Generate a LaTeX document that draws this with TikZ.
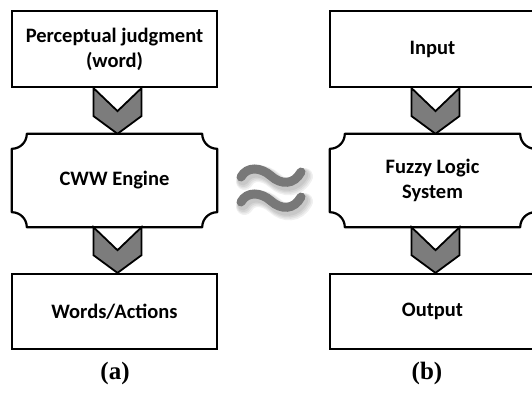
\documentclass[tikz,border=0pt]{standalone}
\usepackage{fontspec}
\setmainfont{Liberation Serif}
\newfontfamily\boxfont{Carlito}
\usetikzlibrary{calc}

\definecolor{chevgray}{HTML}{7C7C7C}
\definecolor{wavegray}{HTML}{787878}

\tikzset{
  boxtext/.style={font=\boxfont\bfseries\fontsize{20.5}{25}\selectfont, align=center},
  blk/.style={boxtext, draw=black, line width=2.2pt, fill=white,
              minimum width=205pt, minimum height=76pt, inner sep=0pt},
  eng/.style={boxtext, minimum width=205pt, minimum height=93pt, inner sep=0pt},
  plaqueline/.style={draw=black, line width=2.2pt, line join=round},
  chev/.style={draw=black, line width=1.8pt, fill=chevgray, line join=miter},
  wave/.style={draw=wavegray, line width=9pt, line cap=round},
  waveshade/.style={draw=black, line cap=round, opacity=0.06},
  caption/.style={font=\bfseries\fontsize{25}{27}\selectfont}
}

% outline of a plaque (concave rounded corners) around a node
\newcommand\plaque[1]{%
  \path[plaqueline]
    ($(#1.north west)+(15,0)$) -- ($(#1.north east)+(-15,0)$)
    .. controls ($(#1.north east)+(-15,8.3)$) and ($(#1.north east)+(-8.3,15)$) .. ($(#1.north east)+(0,15)$)
    -- ($(#1.south east)+(0,-15)$)
    .. controls ($(#1.south east)+(-8.3,-15)$) and ($(#1.south east)+(-15,-8.3)$) .. ($(#1.south east)+(-15,0)$)
    -- ($(#1.south west)+(15,0)$)
    .. controls ($(#1.south west)+(15,-8.3)$) and ($(#1.south west)+(8.3,-15)$) .. ($(#1.south west)+(0,-15)$)
    -- ($(#1.north west)+(0,15)$)
    .. controls ($(#1.north west)+(8.3,15)$) and ($(#1.north west)+(15,8.3)$) .. ($(#1.north west)+(15,0)$)
    -- cycle;}

% chevron connector from the bottom of one node to the top of the next
\newcommand\chevron[2]{%
  \path[chev]
    ($(#1.south)+(-21,0)$) -- ($(#1.south)+(-21,28)$) -- ($(#2.north)+(3,0)$)
    -- ($(#1.south)+(27,28)$) -- ($(#1.south)+(27,0)$) -- ($(#1.south)+(3,23)$) -- cycle;}

\begin{document}
\begin{tikzpicture}[x=1pt, y=-1pt]
  \useasboundingbox (0,0) rectangle (532,393);
  \clip (0,0) rectangle (532,393);

  % (a) computing with words
  \node[blk] (pj) at (114.5,49) {Perceptual judgment\\(word)};
  \node[eng] (cww) at (114.5,180.5) {CWW Engine};
  \node[blk, minimum height=75pt] (wa) at (114.5,311.5) {Words/Actions};
  \plaque{cww}
  \chevron{pj}{cww}
  \chevron{cww}{wa}

  % (b) fuzzy logic system
  \node[blk] (inp) at (432.5,49) {Input};
  \node[eng] (fls) at (432.5,180.5) {Fuzzy Logic\\System};
  \node[blk, minimum height=75pt] (outp) at (432.5,311.5) {Output};
  \plaque{fls}
  \chevron{inp}{fls}
  \chevron{fls}{outp}

  % approximately-equal sign with soft shadow
  \foreach \dy in {0,25}{
    \foreach \w/\s in {17/3.5, 15/3, 13/2.5, 11/2}{
      \draw[waveshade, line width=\w pt, shift={(\s,\s+1)}]
        (241,177+\dy) .. controls (247,166+\dy) and (261,167+\dy) .. (271,176+\dy)
        .. controls (281,185+\dy) and (294,185+\dy) .. (301,172+\dy);
    }
    \draw[wave]
      (241,177+\dy) .. controls (247,166+\dy) and (261,167+\dy) .. (271,176+\dy)
      .. controls (281,185+\dy) and (294,185+\dy) .. (301,172+\dy);
  }

  \node[caption] (capa) at (115,373) {(a)};
  \node[caption] (capb) at (427,373) {(b)};
\end{tikzpicture}
\end{document}
